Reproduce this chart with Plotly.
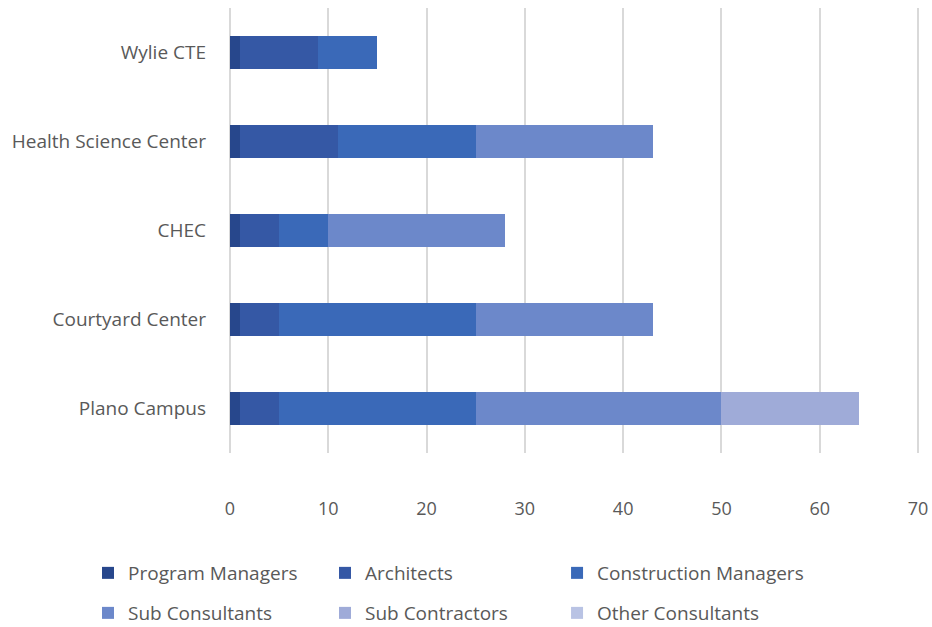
import plotly.graph_objects as go

categories = ["Wylie CTE", "Health Science Center", "CHEC", "Courtyard Center", "Plano Campus"]
series_names = ["Program Managers", "Architects", "Construction Managers",
                "Sub Consultants", "Sub Contractors", "Other Consultants"]
program_managers = [1, 1, 1, 1, 1]
architects = [8, 10, 4, 4, 4]
construction_managers = [6, 14, 5, 20, 20]
sub_consultants = [0, 18, 18, 18, 25]
sub_contractors = [0, 0, 0, 0, 14]
other_consultants = [0, 0, 0, 0, 0]
x_ticks = [0, 10, 20, 30, 40, 50, 60, 70]

values = [program_managers, architects, construction_managers,
          sub_consultants, sub_contractors, other_consultants]
colors = ["#27478C", "#3558A5", "#3A69B8", "#6C88CA", "#9FABD8", "#B9C3E4"]

# one legend box per item, laid out as a 3 x 2 grid below the plot
legend_ids = ["legend", "legend2", "legend3", "legend4", "legend5", "legend6"]
legend_x = [-0.2023, 0.1402, 0.4755]
legend_y = [-0.2697, -0.3596]

fig = go.Figure()
for i, (name, vals, col) in enumerate(zip(series_names, values, colors)):
    fig.add_trace(go.Bar(
        y=categories, x=vals, name=name, orientation="h",
        marker=dict(color=col, line=dict(width=0)),
        legend=legend_ids[i], showlegend=True,
    ))

font_family = "Open Sans, sans-serif"
layout_legends = {}
for i, lid in enumerate(legend_ids):
    layout_legends[lid] = dict(
        orientation="h", x=legend_x[i % 3], xanchor="left",
        y=legend_y[i // 3], yanchor="middle",
        font=dict(size=19, color="#595959"), bgcolor="rgba(0,0,0,0)",
    )

fig.update_layout(
    showlegend=True,
    barmode="stack",
    bargap=0.62,
    width=932, height=627,
    margin=dict(l=228, r=12, t=8, b=174, autoexpand=False),
    plot_bgcolor="white", paper_bgcolor="white",
    font=dict(family=font_family, size=19, color="#595959"),
    xaxis=dict(range=[-0.2, 70.2], tickvals=x_ticks, showgrid=True,
               gridcolor="#D9D9D9", gridwidth=1.5, zeroline=False,
               showline=False, ticks="", ticklabelstandoff=43, automargin=False,
               tickfont=dict(size=18, color="#595959")),
    yaxis=dict(showgrid=False, zeroline=False, automargin=False,
               showline=False, ticks="", ticklabelstandoff=21,
               tickfont=dict(size=19, color="#595959")),
    **layout_legends,
)
fig.update_yaxes(categoryorder="array", categoryarray=categories, autorange="reversed")

fig.write_html("out.html", config={"displayModeBar": False},
               post_script="document.body.style.margin='0';")
